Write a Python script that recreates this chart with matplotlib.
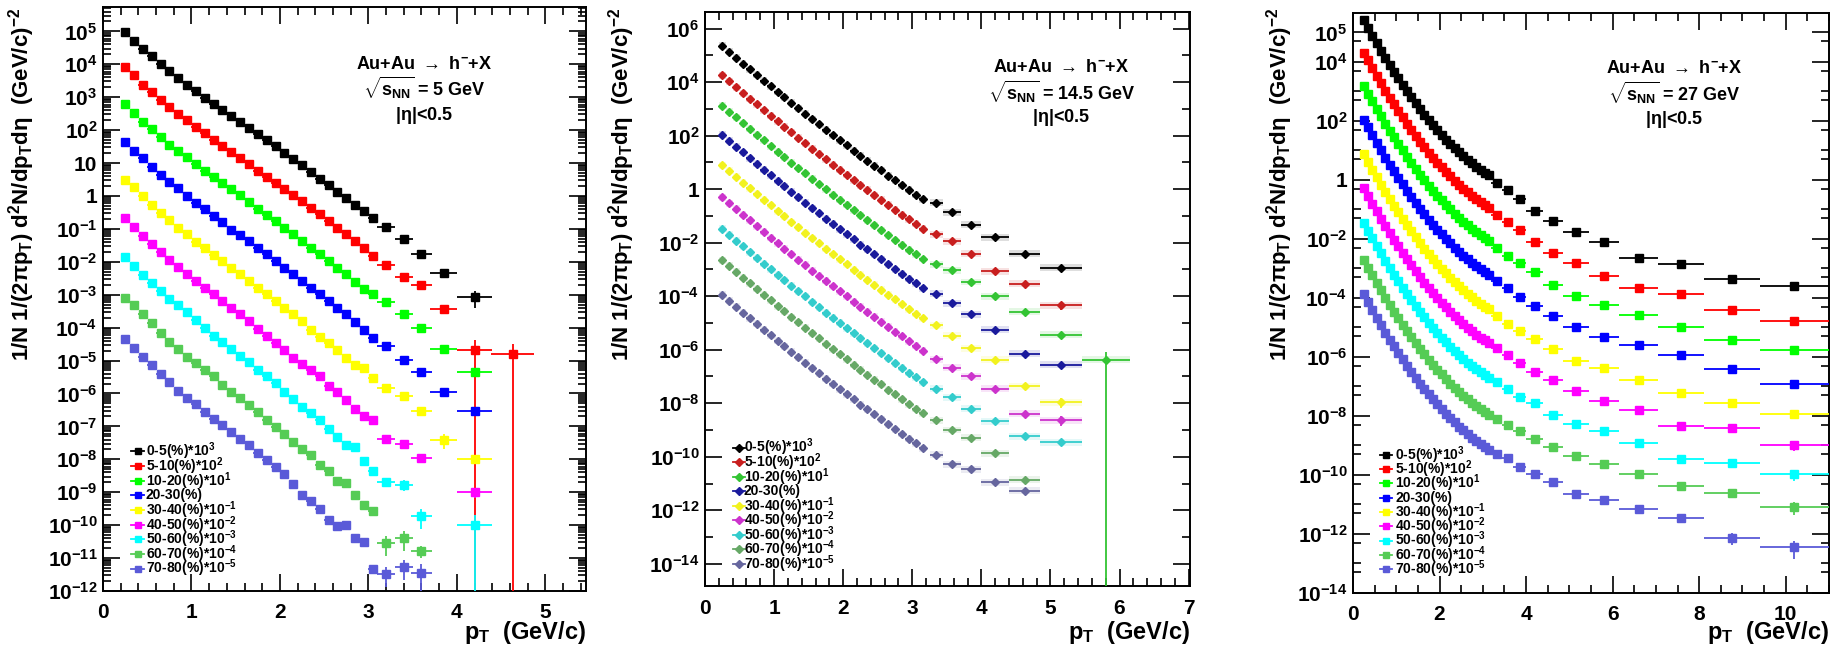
import numpy as np
import matplotlib
matplotlib.use('Agg')
import matplotlib.pyplot as plt
from matplotlib.patches import Rectangle
from matplotlib.ticker import FixedLocator, FuncFormatter, NullFormatter, MultipleLocator

nan = np.nan

plt.rcParams['font.family'] = ['Liberation Sans', 'DejaVu Sans']
plt.rcParams['font.weight'] = 'bold'
plt.rcParams['mathtext.fontset'] = 'custom'
plt.rcParams['mathtext.rm'] = 'Liberation Sans:bold'
plt.rcParams['mathtext.it'] = 'Liberation Sans:bold'
plt.rcParams['mathtext.bf'] = 'Liberation Sans:bold'
plt.rcParams['mathtext.sf'] = 'Liberation Sans:bold'

# centrality classes (with the scale factor applied to each spectrum)
centrality = ['0-5(%)*10$^{3}$', '5-10(%)*10$^{2}$', '10-20(%)*10$^{1}$', '20-30(%)',
              '30-40(%)*10$^{-1}$', '40-50(%)*10$^{-2}$', '50-60(%)*10$^{-3}$',
              '60-70(%)*10$^{-4}$', '70-80(%)*10$^{-5}$']
energies = ['5', '14.5', '27']

# ---------------- sqrt(s_NN) = 5 GeV ----------------
pt_5 = [0.25, 0.35, 0.45, 0.55, 0.65, 0.75, 0.85, 0.95, 1.05, 1.15, 1.25, 1.35, 1.45, 1.55, 1.65,
        1.75, 1.85, 1.95, 2.05, 2.15, 2.25, 2.35, 2.45, 2.55, 2.65, 2.75, 2.85, 2.95, 3.05,
        3.2, 3.4, 3.6, 3.85, 4.2, 4.63]
dpt_5 = [0.05] * 29 + [0.1, 0.1, 0.12, 0.15, 0.2, 0.24]

# log10 of the scaled invariant yield
s5_0_5 = [4.97, 4.72, 4.46, 4.24, 4.01, 3.79, 3.58, 3.38, 3.18, 2.98, 2.80, 2.61, 2.42, 2.25, 2.06,
          1.87, 1.69, 1.51, 1.31, 1.11, 0.93, 0.72, 0.52, 0.33, 0.13, -0.06, -0.26, -0.46, -0.66,
          -0.95, -1.30, -1.77, -2.33, -3.07, nan]
s5_5_10 = [3.91, 3.66, 3.38, 3.15, 2.93, 2.70, 2.49, 2.30, 2.09, 1.90, 1.71, 1.53, 1.33, 1.16, 0.96,
           0.77, 0.58, 0.40, 0.22, 0.02, -0.16, -0.36, -0.56, -0.76, -0.97, -1.17, -1.38, -1.58, -1.83,
           -2.10, -2.45, -2.71, -3.44, -4.68, -4.80]
s5_10_20 = [2.80, 2.52, 2.25, 2.02, 1.79, 1.56, 1.36, 1.19, 0.98, 0.77, 0.57, 0.40, 0.20, 0.02, -0.19,
            -0.39, -0.59, -0.76, -0.97, -1.17, -1.37, -1.57, -1.77, -1.98, -2.18, -2.38, -2.61, -2.82, -2.98,
            -3.23, -3.59, -4.00, -4.66, -5.36, nan]
s5_20_30 = [1.63, 1.38, 1.14, 0.87, 0.65, 0.42, 0.23, -0.01, -0.21, -0.41, -0.61, -0.79, -1.02, -1.20, -1.37,
            -1.57, -1.77, -1.98, -2.18, -2.38, -2.58, -2.79, -2.99, -3.19, -3.39, -3.60, -3.82, -4.06, -4.32,
            -4.55, -4.98, -5.35, -5.97, -6.53, nan]
s5_30_40 = [0.50, 0.27, -0.01, -0.26, -0.51, -0.73, -0.97, -1.17, -1.40, -1.57, -1.80, -1.98, -2.18, -2.38, -2.58,
            -2.79, -2.99, -3.19, -3.39, -3.59, -3.80, -4.07, -4.27, -4.47, -4.68, -4.91, -5.13, -5.23, -5.54,
            -5.84, -6.07, -6.53, -7.40, -7.98, nan]
s5_40_50 = [-0.66, -0.95, -1.22, -1.47, -1.70, -1.95, -2.16, -2.38, -2.58, -2.79, -2.99, -3.19, -3.39, -3.59, -3.80,
            -4.03, -4.25, -4.46, -4.68, -4.93, -5.11, -5.30, -5.48, -5.77, -5.96, -6.19, -6.46, -6.68, -6.80,
            -7.37, -7.53, -7.96, nan, -9.00, nan]
s5_50_60 = [-1.85, -2.13, -2.41, -2.65, -2.89, -3.12, -3.32, -3.54, -3.77, -4.00, -4.24, -4.45, -4.65, -4.86, -5.05,
            -5.28, -5.48, -5.69, -5.96, -6.17, -6.41, -6.60, -6.82, -7.07, -7.32, -7.58, -7.64, -8.04, -8.34,
            -8.70, -8.77, -9.71, nan, -9.98, nan]
s5_60_70 = [-3.09, -3.32, -3.59, -3.85, -4.15, -4.44, -4.65, -4.88, -5.08, -5.30, -5.46, -5.74, -5.94, -6.14, -6.34,
            -6.55, -6.80, -7.03, -7.23, -7.48, -7.68, -7.88, -8.18, -8.36, -8.67, -8.72, -9.09, -9.39, -9.56,
            -10.54, -10.38, -10.79, nan, nan, nan]
s5_70_80 = [-4.35, -4.61, -4.88, -5.13, -5.40, -5.66, -5.91, -6.14, -6.31, -6.55, -6.77, -6.95, -7.17, -7.37, -7.58,
            -7.81, -8.01, -8.23, -8.46, -8.74, -9.09, -9.27, -9.50, -9.83, -10.03, -10.00, -10.38, -10.51, -11.32,
            -11.47, -11.27, -11.44, nan, nan, nan]

# relative errors of the wide high-pT bins (3.2 ... 4.63 GeV/c)
r5_0_5 = [0.05, 0.07, 0.10, 0.15, 0.55, 0]
r5_5_10 = [0.06, 0.10, 0.15, 0.30, 1.0, 1.0]
r5_10_20 = [0.06, 0.10, 0.10, 0.25, 0.20, 0]
r5_20_30 = [0.08, 0.10, 0.12, 0.20, 0.20, 0]
r5_30_40 = [0.10, 0.15, 0.15, 0.50, 0.20, 0]
r5_40_50 = [0.15, 0.20, 0.30, 0, 0.35, 0]
r5_50_60 = [0.30, 0.35, 0.60, 0, 1.0, 0]
r5_60_70 = [0.60, 0.60, 0.40, 0, 0, 0]
r5_70_80 = [0.60, 0.60, 0.80, 0, 0, 0]

# ---------------- sqrt(s_NN) = 14.5 GeV ----------------
pt_14 = [0.25, 0.35, 0.45, 0.55, 0.65, 0.75, 0.85, 0.95, 1.05, 1.15, 1.25, 1.35, 1.45, 1.55, 1.65,
         1.75, 1.85, 1.95, 2.05, 2.15, 2.25, 2.35, 2.45, 2.55, 2.65, 2.75, 2.85, 2.95, 3.05, 3.15,
         3.35, 3.575, 3.85, 4.2, 4.625, 5.15, 5.8]
dpt_14 = [0.05] * 30 + [0.1, 0.125, 0.15, 0.2, 0.225, 0.3, 0.35]

s14_0_5 = [5.35, 5.13, 4.91, 4.69, 4.48, 4.27, 4.05, 3.84, 3.63, 3.43, 3.22, 3.02, 2.82, 2.61, 2.42,
           2.22, 2.02, 1.83, 1.64, 1.44, 1.25, 1.07, 0.88, 0.70, 0.51, 0.33, 0.15, -0.03, -0.20, -0.38,
           -0.51, -0.86, -1.33, -1.79, -2.41, -2.94, nan]
s14_5_10 = [4.25, 4.03, 3.81, 3.59, 3.38, 3.17, 2.95, 2.74, 2.53, 2.33, 2.12, 1.92, 1.72, 1.51, 1.32,
            1.12, 0.92, 0.73, 0.54, 0.34, 0.15, -0.03, -0.22, -0.40, -0.59, -0.77, -0.95, -1.13, -1.30, -1.48,
            -1.68, -1.95, -2.41, -3.07, -3.53, -4.34, nan]
s14_10_20 = [3.12, 2.90, 2.68, 2.46, 2.25, 2.04, 1.82, 1.61, 1.40, 1.20, 0.99, 0.79, 0.59, 0.38, 0.19,
             -0.01, -0.21, -0.40, -0.59, -0.79, -0.98, -1.16, -1.35, -1.53, -1.72, -1.90, -2.08, -2.26, -2.43, -2.61,
             -2.81, -3.03, -3.47, -4.00, -4.58, -5.44, -6.37]
s14_20_30 = [2.03, 1.81, 1.59, 1.37, 1.16, 0.95, 0.73, 0.52, 0.31, 0.11, -0.10, -0.30, -0.50, -0.71, -0.90,
             -1.10, -1.30, -1.49, -1.68, -1.88, -2.07, -2.25, -2.44, -2.62, -2.81, -2.99, -3.17, -3.35, -3.52, -3.70,
             -3.90, -4.27, -4.68, -5.26, -6.15, -6.56, nan]
s14_30_40 = [0.90, 0.68, 0.46, 0.24, 0.03, -0.18, -0.40, -0.61, -0.82, -1.02, -1.23, -1.43, -1.63, -1.84, -2.03,
             -2.23, -2.43, -2.62, -2.81, -3.01, -3.20, -3.38, -3.57, -3.75, -3.94, -4.12, -4.30, -4.48, -4.65, -4.83,
             -5.08, -5.48, -5.94, -6.37, -7.36, -7.96, nan]
s14_40_50 = [-0.30, -0.52, -0.74, -0.96, -1.17, -1.38, -1.60, -1.81, -2.02, -2.22, -2.43, -2.63, -2.83, -3.04, -3.23,
             -3.43, -3.63, -3.82, -4.01, -4.21, -4.40, -4.58, -4.77, -4.95, -5.14, -5.32, -5.50, -5.68, -5.85, -6.03,
             -6.35, -6.68, -6.99, -7.46, -8.39, -8.63, nan]
s14_50_60 = [-1.48, -1.70, -1.92, -2.14, -2.35, -2.56, -2.78, -2.99, -3.20, -3.40, -3.61, -3.81, -4.01, -4.22, -4.41,
             -4.61, -4.81, -5.00, -5.19, -5.39, -5.58, -5.76, -5.95, -6.13, -6.32, -6.50, -6.68, -6.86, -7.03, -7.21,
             -7.46, -7.77, -8.21, -8.67, -9.23, -9.45, nan]
s14_60_70 = [-2.65, -2.87, -3.09, -3.31, -3.52, -3.73, -3.95, -4.16, -4.37, -4.57, -4.78, -4.98, -5.18, -5.39, -5.58,
             -5.78, -5.98, -6.17, -6.36, -6.56, -6.75, -6.93, -7.12, -7.30, -7.49, -7.67, -7.85, -8.03, -8.20, -8.38,
             -8.63, -9.00, -9.29, -9.87, -10.86, nan, nan]
s14_70_80 = [-3.95, -4.17, -4.39, -4.61, -4.82, -5.03, -5.25, -5.46, -5.67, -5.87, -6.08, -6.28, -6.48, -6.69, -6.88,
             -7.08, -7.28, -7.47, -7.66, -7.86, -8.05, -8.23, -8.42, -8.60, -8.79, -8.97, -9.15, -9.33, -9.50, -9.68,
             -9.93, -10.28, -10.47, -10.96, -11.27, nan, nan]

r14_0_5 = [0.03, 0.04, 0.05, 0.08, 0.10, 0.20, 0]
r14_5_10 = [0.04, 0.05, 0.08, 0.10, 0.15, 0.35, 0]
r14_10_20 = [0.04, 0.05, 0.08, 0.10, 0.15, 0.20, 1.0]
r14_20_30 = [0.05, 0.06, 0.08, 0.10, 0.15, 0.30, 0]
r14_30_40 = [0.05, 0.06, 0.08, 0.10, 0.20, 0.40, 0]
r14_40_50 = [0.05, 0.07, 0.10, 0.15, 0.30, 0.40, 0]
r14_50_60 = [0.06, 0.08, 0.10, 0.15, 0.20, 0.25, 0]
r14_60_70 = [0.07, 0.10, 0.12, 0.20, 0.30, 0, 0]
r14_70_80 = [0.08, 0.10, 0.15, 0.20, 0.30, 0, 0]

# ---------------- sqrt(s_NN) = 27 GeV ----------------
pt_27 = [0.25, 0.35, 0.45, 0.55, 0.65, 0.75, 0.85, 0.95, 1.05, 1.15, 1.25, 1.35, 1.45, 1.55, 1.65,
         1.75, 1.85, 1.95, 2.05, 2.15, 2.25, 2.35, 2.45, 2.55, 2.65, 2.75, 2.85, 2.95, 3.05, 3.15,
         3.325, 3.575, 3.85, 4.2, 4.625, 5.15, 5.8, 6.6, 7.575, 8.75, 10.2]
dpt_27 = [0.05] * 30 + [0.125, 0.125, 0.15, 0.2, 0.225, 0.3, 0.35, 0.45, 0.525, 0.65, 0.8]

s27_0_5 = [5.42, 5.15, 4.89, 4.63, 4.38, 4.13, 3.89, 3.66, 3.44, 3.22, 3.00, 2.80, 2.60, 2.40, 2.21,
           2.03, 1.86, 1.69, 1.53, 1.37, 1.22, 1.08, 0.94, 0.81, 0.68, 0.57, 0.45, 0.35, 0.25, 0.16,
           -0.09, -0.35, -0.66, -1.04, -1.40, -1.77, -2.09, -2.64, -2.84, -3.34, -3.59]
s27_5_10 = [4.32, 4.05, 3.79, 3.53, 3.28, 3.03, 2.79, 2.56, 2.34, 2.12, 1.90, 1.70, 1.50, 1.30, 1.11,
            0.93, 0.76, 0.59, 0.43, 0.27, 0.12, -0.02, -0.16, -0.29, -0.42, -0.53, -0.65, -0.75, -0.85, -0.94,
            -1.20, -1.43, -1.68, -2.09, -2.47, -2.83, -3.25, -3.65, -3.87, -4.41, -4.77]
s27_10_20 = [3.20, 2.93, 2.67, 2.41, 2.16, 1.91, 1.67, 1.44, 1.22, 1.00, 0.78, 0.58, 0.38, 0.18, -0.01,
             -0.19, -0.36, -0.53, -0.69, -0.85, -1.00, -1.14, -1.28, -1.41, -1.54, -1.65, -1.77, -1.87, -1.97, -2.06,
             -2.30, -2.56, -2.80, -3.12, -3.57, -3.93, -4.25, -4.58, -5.00, -5.43, -5.76]
s27_20_30 = [2.05, 1.78, 1.52, 1.26, 1.01, 0.76, 0.52, 0.29, 0.07, -0.15, -0.37, -0.57, -0.77, -0.97, -1.16,
             -1.34, -1.51, -1.68, -1.84, -2.00, -2.15, -2.29, -2.43, -2.56, -2.69, -2.80, -2.92, -3.02, -3.12, -3.21,
             -3.42, -3.65, -3.96, -4.27, -4.60, -4.97, -5.31, -5.60, -5.94, -6.42, -6.93]
s27_30_40 = [0.88, 0.61, 0.35, 0.09, -0.16, -0.41, -0.65, -0.88, -1.10, -1.32, -1.54, -1.74, -1.94, -2.14, -2.33,
             -2.51, -2.68, -2.85, -3.01, -3.17, -3.32, -3.46, -3.60, -3.73, -3.86, -3.97, -4.09, -4.19, -4.29, -4.38,
             -4.62, -4.88, -5.12, -5.40, -5.74, -6.14, -6.36, -6.79, -7.21, -7.55, -7.92]
s27_40_50 = [-0.27, -0.54, -0.80, -1.06, -1.31, -1.56, -1.80, -2.03, -2.25, -2.47, -2.69, -2.89, -3.09, -3.29, -3.48,
             -3.66, -3.83, -4.00, -4.16, -4.32, -4.47, -4.61, -4.75, -4.88, -5.01, -5.12, -5.24, -5.34, -5.44, -5.53,
             -5.68, -5.94, -6.19, -6.50, -6.79, -7.15, -7.49, -7.81, -8.34, -8.40, -9.00]
s27_50_60 = [-1.45, -1.72, -1.98, -2.24, -2.49, -2.74, -2.98, -3.21, -3.43, -3.65, -3.87, -4.07, -4.27, -4.47, -4.66,
             -4.84, -5.01, -5.18, -5.34, -5.50, -5.65, -5.79, -5.93, -6.06, -6.19, -6.30, -6.42, -6.52, -6.62, -6.71,
             -6.85, -7.07, -7.36, -7.55, -7.98, -8.26, -8.51, -8.93, -9.47, -9.59, -9.98]
s27_60_70 = [-2.70, -2.97, -3.23, -3.49, -3.74, -3.99, -4.23, -4.46, -4.68, -4.90, -5.12, -5.32, -5.52, -5.72, -5.91,
             -6.09, -6.26, -6.43, -6.59, -6.75, -6.90, -7.04, -7.18, -7.31, -7.44, -7.55, -7.67, -7.77, -7.87, -7.96,
             -8.10, -8.29, -8.51, -8.77, -9.04, -9.36, -9.62, -9.98, -10.36, -10.60, -11.09]
s27_70_80 = [-3.88, -4.15, -4.41, -4.67, -4.92, -5.17, -5.41, -5.64, -5.86, -6.08, -6.30, -6.50, -6.70, -6.90, -7.09,
             -7.27, -7.44, -7.61, -7.77, -7.93, -8.08, -8.22, -8.36, -8.49, -8.62, -8.73, -8.85, -8.95, -9.05, -9.14,
             -9.28, -9.42, -9.72, -9.98, -10.24, -10.64, -10.86, -11.15, -11.45, -12.13, -12.44]

r27_0_5 = [0.02, 0.02, 0.02, 0.02, 0.03, 0.03, 0.04, 0.05, 0.06, 0.08, 0.10]
r27_5_10 = [0.02, 0.02, 0.02, 0.03, 0.03, 0.04, 0.05, 0.06, 0.08, 0.15, 0.20]
r27_10_20 = [0.02, 0.02, 0.03, 0.03, 0.04, 0.05, 0.06, 0.08, 0.10, 0.15, 0.20]
r27_20_30 = [0.02, 0.03, 0.03, 0.04, 0.05, 0.06, 0.07, 0.09, 0.12, 0.20, 0.25]
r27_30_40 = [0.03, 0.03, 0.04, 0.05, 0.06, 0.07, 0.08, 0.10, 0.15, 0.20, 0.30]
r27_40_50 = [0.03, 0.04, 0.05, 0.06, 0.07, 0.08, 0.10, 0.12, 0.15, 0.25, 0.35]
r27_50_60 = [0.04, 0.05, 0.06, 0.07, 0.08, 0.10, 0.12, 0.15, 0.20, 0.30, 0.40]
r27_60_70 = [0.05, 0.06, 0.07, 0.08, 0.10, 0.12, 0.15, 0.20, 0.25, 0.35, 0.45]
r27_70_80 = [0.06, 0.07, 0.08, 0.10, 0.12, 0.15, 0.20, 0.25, 0.30, 0.45, 0.60]

colors_std = ['#000000', '#ff0000', '#00ff00', '#0000ff', '#ffff00', '#ff00ff', '#00ffff', '#55cc55', '#5a5ad8']
colors_14 = ['#000000', '#c81e1e', '#33c433', '#1a1a9c', '#f2f21e', '#cc33cc', '#33cccc', '#66a866', '#66669e']


def decade_label(v, pos):
    n = int(round(np.log10(v)))
    if n == 0:
        return '1'
    if n == 1:
        return '10'
    return r'$10^{%d}$' % n


def draw_spectra(ax, pt, dpt, spectra, tails, colors, marker, ms, boxes=False):
    pt = np.array(pt)
    dpt = np.array(dpt)
    for logy, tail, c in zip(spectra, tails, colors):
        logy = np.array(logy)
        n_dense = len(logy) - len(tail)
        rel = np.r_[np.full(n_dense, 0.02), tail]
        ok = ~np.isnan(logy)
        y = 10 ** logy[ok]
        x = pt[ok]
        dx = dpt[ok]
        e = rel[ok]
        lo = y * np.minimum(e, 1.0)
        hi = y * e
        if boxes:
            for xi, dxi, yi in zip(x, dx, y):
                ax.add_patch(Rectangle((xi - dxi, yi / 1.35), 2 * dxi, yi * 1.35 - yi / 1.35,
                                       facecolor=c, edgecolor='none', alpha=0.13, zorder=1))
        ax.errorbar(x, y, xerr=dx, yerr=[lo, hi], fmt=marker, color=c, ms=ms,
                    mec=c, elinewidth=1.3, capsize=0, zorder=3)


def draw_legend(ax, colors, marker, ms, xm, xt, y0, dy, fs):
    for i, (lab, c) in enumerate(zip(centrality, colors)):
        yy = y0 - i * dy
        ax.plot([xm - 0.013, xm + 0.013], [yy, yy], color=c, lw=1.3, transform=ax.transAxes)
        ax.plot([xm], [yy], marker=marker, color=c, ms=ms, transform=ax.transAxes)
        ax.text(xt, yy, lab, transform=ax.transAxes, ha='left', va='center', fontsize=fs)


def style_axes(ax, xlim, ylim, xmajor, xminor, ymajor, yminor):
    ax.set_yscale('log')
    ax.set_xlim(*xlim)
    ax.set_ylim(*ylim)
    ax.xaxis.set_major_locator(MultipleLocator(xmajor))
    ax.xaxis.set_minor_locator(MultipleLocator(xminor))
    ax.yaxis.set_major_locator(FixedLocator(ymajor))
    ax.yaxis.set_major_formatter(FuncFormatter(decade_label))
    ax.yaxis.set_minor_locator(FixedLocator(yminor))
    ax.yaxis.set_minor_formatter(NullFormatter())
    ax.tick_params(which='both', direction='in', top=True, right=True, width=1.2)
    ax.tick_params(which='major', length=12, labelsize=15)
    ax.tick_params(which='minor', length=6)
    ax.tick_params(axis='x', which='major', pad=9)
    ax.tick_params(axis='y', which='major', pad=4)
    for sp in ax.spines.values():
        sp.set_linewidth(1.4)


def annotate(ax, energy, xc, ys):
    ax.text(xc, ys[0], r'Au+Au $\rightarrow$ h$^{-}$+X', transform=ax.transAxes, ha='center', va='center', fontsize=13)
    ax.text(xc, ys[1], r'$\sqrt{s_{NN}}$ = %s GeV' % energy, transform=ax.transAxes, ha='center', va='center', fontsize=13)
    ax.text(xc, ys[2], r'|$\eta$|<0.5', transform=ax.transAxes, ha='center', va='center', fontsize=13)


ylabel = r'1/N 1/(2$\pi$p$_{T}$) d$^{2}$N/dp$_{T}$d$\eta$  (GeV/c)$^{-2}$'
xlabel = r'p$_{T}$  (GeV/c)'

W, H = 1841, 654
fig = plt.figure(figsize=(W / 100, H / 100), dpi=100)


def frame(left, right, top, bottom):
    return fig.add_axes([left / W, 1 - bottom / H, (right - left) / W, (bottom - top) / H])


ax1 = frame(103, 586, 7, 591)
ax2 = frame(705, 1190, 12, 586)
ax3 = frame(1353, 1829, 13, 593)

# 5 GeV
spec5 = [s5_0_5, s5_5_10, s5_10_20, s5_20_30, s5_30_40, s5_40_50, s5_50_60, s5_60_70, s5_70_80]
tail5 = [r5_0_5, r5_5_10, r5_10_20, r5_20_30, r5_30_40, r5_40_50, r5_50_60, r5_60_70, r5_70_80]
style_axes(ax1, (0, 5.46), (1e-12, 10 ** 5.74), 1, 0.2,
           [10.0 ** n for n in range(-12, 6)],
           [m * 10.0 ** n for n in range(-12, 6) for m in range(2, 10)])
draw_spectra(ax1, pt_5, dpt_5, spec5, tail5, colors_std, 's', 5.5)
draw_legend(ax1, colors_std, 's', 4.5, 0.072, 0.088, 0.239, 0.0251, 10)
annotate(ax1, energies[0], 0.665, (0.902, 0.861, 0.815))

# 14.5 GeV
spec14 = [s14_0_5, s14_5_10, s14_10_20, s14_20_30, s14_30_40, s14_40_50, s14_50_60, s14_60_70, s14_70_80]
tail14 = [r14_0_5, r14_5_10, r14_10_20, r14_20_30, r14_30_40, r14_40_50, r14_50_60, r14_60_70, r14_70_80]
style_axes(ax2, (0, 7.02), (10 ** -14.83, 10 ** 6.62), 1, 0.2,
           [10.0 ** n for n in range(-14, 7, 2)],
           [10.0 ** n for n in range(-13, 7, 2)])
draw_spectra(ax2, pt_14, dpt_14, spec14, tail14, colors_14, 'D', 3.6, boxes=True)
draw_legend(ax2, colors_14, 'D', 3.6, 0.070, 0.080, 0.241, 0.0253, 10)
annotate(ax2, energies[1], 0.735, (0.904, 0.860, 0.817))

# 27 GeV
spec27 = [s27_0_5, s27_5_10, s27_10_20, s27_20_30, s27_30_40, s27_40_50, s27_50_60, s27_60_70, s27_70_80]
tail27 = [r27_0_5, r27_5_10, r27_10_20, r27_20_30, r27_30_40, r27_40_50, r27_50_60, r27_60_70, r27_70_80]
style_axes(ax3, (0, 11.0), (1e-14, 10 ** 5.66), 2, 0.5,
           [10.0 ** n for n in [5, 4, 2, 0, -2, -4, -6, -8, -10, -12, -14]],
           [10.0 ** n for n in [3, 1, -1, -3, -5, -7, -9, -11, -13]] +
           [5 * 10.0 ** n for n in range(-14, 5)])
draw_spectra(ax3, pt_27, dpt_27, spec27, tail27, colors_std, 's', 5.5)
draw_legend(ax3, colors_std, 's', 4.5, 0.069, 0.089, 0.238, 0.0246, 10)
annotate(ax3, energies[2], 0.675, (0.905, 0.863, 0.816))

# axis titles in ROOT style: y at top-left, x at bottom-right
for xl in (22, 622, 1280):
    fig.text(xl / W, 1 - 8 / H, ylabel, rotation=90, ha='center', va='top', fontsize=16)
for ax in (ax1, ax2, ax3):
    pos = ax.get_position()
    fig.text(pos.x1, 1 - 633 / H, xlabel, ha='right', va='center', fontsize=17)

fig.savefig('out.png', dpi=100)
